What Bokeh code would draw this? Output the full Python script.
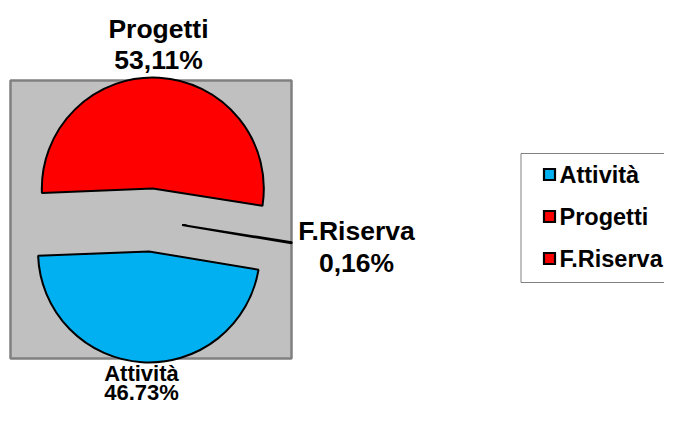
import math
from bokeh.plotting import figure
from bokeh.models import Range1d, ColumnDataSource
from bokeh.core.properties import value
from bokeh.embed import file_html
from bokeh.resources import INLINE

# ---- data ----
categories = ["Attività", "Progetti", "F.Riserva"]
shares = [46.73, 53.11, 0.16]
pct_labels = ["46.73%", "53,11%", "0,16%"]
colors = ["#00B0F0", "#FF0000", "#FF0000"]

# ---- layout constants (pixels from top-left) ----
W, H = 664, 405


def X(px):
    return px


def Y(py):
    return H - py


def TB(baseline, fs):
    # text renders ~0.37 em below requested y; compensate
    return Y(baseline - 0.37 * fs)


FONT = value("Liberation Sans")

p = figure(width=W, height=H, output_backend="svg", toolbar_location=None,
           x_range=Range1d(0, W), y_range=Range1d(0, H), min_border=0)
p.axis.visible = False
p.grid.visible = False
p.outline_line_color = None
p.background_fill_color = "white"
p.border_fill_color = "white"

# plot area
p.quad(left=[X(10)], right=[X(291)], bottom=[Y(358)], top=[Y(80)],
       fill_color="#C0C0C0", line_color="#808080", line_width=2.5)

# pie geometry
cx, cy = X(150.5), Y(219.5)
R = 111
explode = 31.5
start = math.radians(-9.5)  # first slice starts here, going clockwise
total = sum(shares)
starts, ends, xs, ys = [], [], [], []
a = start
for s in shares:
    sweep = 2 * math.pi * s / total
    a_end = a - sweep
    starts.append(a_end)
    ends.append(a)
    mid = (a + a_end) / 2
    xs.append(cx + explode * math.cos(mid))
    ys.append(cy + explode * math.sin(mid))
    a = a_end

src = ColumnDataSource(dict(x=xs, y=ys, s=starts, e=ends, c=colors))
p.wedge(x="x", y="y", radius=R, start_angle="s", end_angle="e",
        fill_color="c", line_color="black", line_width=2, source=src)

# data labels
label_pos = {  # center x, name baseline, pct baseline, font size
    "Attività": (141, 381, 400, 22),
    "Progetti": (158, 38, 69, 26.5),
    "F.Riserva": (356, 240, 272, 26.5),
}
for cat, pct in zip(categories, pct_labels):
    lx, b1, b2, fs = label_pos[cat]
    p.text(x=[X(lx), X(lx)], y=[TB(b1, fs), TB(b2, fs)], text=[cat, pct],
           text_font=FONT, text_font_style="bold", text_font_size=f"{fs}px",
           text_align="center", text_baseline="alphabetic", text_color="black")

# legend
p.quad(left=[X(520.5)], right=[X(700)], bottom=[Y(282)], top=[Y(153)],
       fill_color="white", line_color="#808080", line_width=1)
leg_base = [183, 225, 267]
leg_fs = 23.5
p.rect(x=[X(549)] * 3, y=[Y(b - 9) for b in leg_base], width=11, height=11,
       fill_color=colors, line_color="black", line_width=2.2, line_join="miter")
p.text(x=[X(559)] * 3, y=[TB(b, leg_fs) for b in leg_base], text=categories,
       text_font=FONT, text_font_style="bold", text_font_size=f"{leg_fs}px",
       text_align="left", text_baseline="alphabetic", text_color="black")

open("out.html", "w").write(file_html(p, INLINE))
